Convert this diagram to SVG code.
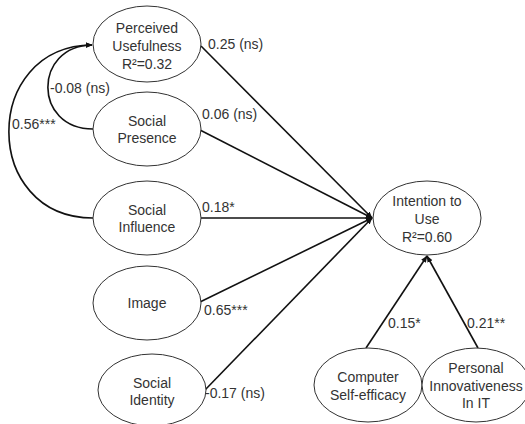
<svg xmlns="http://www.w3.org/2000/svg" width="525" height="424" viewBox="0 0 525 424">
<style>
.n ellipse{fill:#fff;stroke:#333;stroke-width:1}
text{font-family:"Liberation Sans",Arial,sans-serif;font-size:14px;fill:#333}
.n text{text-anchor:middle}
.c path{fill:none;stroke:#111;stroke-width:1.6}
</style>
<defs>
<marker id="ah" markerUnits="userSpaceOnUse" markerWidth="7" markerHeight="7" viewBox="0 0 10 10" refX="9" refY="5" orient="auto">
<path d="M0,1 L10,5 L0,9 Z" fill="#111"/>
</marker>
</defs>
<rect width="525" height="424" fill="#fff"/>
<g id="connectors" class="c">
<path d="M201,46 L372,218" marker-end="url(#ah)"/>
<path d="M200,130 L372,218" marker-end="url(#ah)"/>
<path d="M201,218 L372,218" marker-end="url(#ah)"/>
<path d="M200,302 L372,218" marker-end="url(#ah)"/>
<path d="M205,390 L372,218" marker-end="url(#ah)"/>
<path d="M366,348 L427,256" marker-end="url(#ah)"/>
<path d="M478,348 L427,256" marker-end="url(#ah)"/>
<path d="M93,129 C33,129 33,46 92,45" marker-end="url(#ah)"/>
<path d="M93,218 C-19,218 -19,46 92,45" marker-end="url(#ah)"/>
</g>
<g id="labels">
<text x="208" y="49">0.25 (ns)</text>
<text x="202" y="119">0.06 (ns)</text>
<text x="50" y="93">-0.08 (ns)</text>
<text x="12" y="129">0.56***</text>
<text x="202" y="212">0.18*</text>
<text x="204" y="315">0.65***</text>
<text x="205" y="398">-0.17 (ns)</text>
<text x="388" y="328">0.15*</text>
<text x="467" y="328">0.21**</text>
</g>
<g id="pu" class="n"><ellipse cx="147" cy="44" rx="54" ry="38"/>
<text x="147" y="33">Perceived</text><text x="147" y="51">Usefulness</text><text x="147" y="69">R²=0.32</text></g>
<g id="sp" class="n"><ellipse cx="147" cy="129" rx="54" ry="37"/>
<text x="147" y="126">Social</text><text x="147" y="143">Presence</text></g>
<g id="si" class="n"><ellipse cx="147" cy="218" rx="54" ry="37"/>
<text x="147" y="215">Social</text><text x="147" y="232">Influence</text></g>
<g id="img" class="n"><ellipse cx="147" cy="303" rx="54" ry="37"/>
<text x="147" y="308">Image</text></g>
<g id="sid" class="n"><ellipse cx="152" cy="390" rx="54" ry="36"/>
<text x="152" y="388">Social</text><text x="152" y="405">Identity</text></g>
<g id="itu" class="n"><ellipse cx="427" cy="218" rx="54" ry="37"/>
<text x="427" y="206">Intention to</text><text x="427" y="224">Use</text><text x="427" y="242">R²=0.60</text></g>
<g id="cse" class="n"><ellipse cx="368" cy="385" rx="54" ry="37"/>
<text x="368" y="382">Computer</text><text x="368" y="400">Self-efficacy</text></g>
<g id="pi" class="n"><ellipse cx="476" cy="385" rx="54" ry="37"/>
<text x="476" y="373">Personal</text><text x="476" y="391">Innovativeness</text><text x="476" y="408">In IT</text></g>
</svg>
